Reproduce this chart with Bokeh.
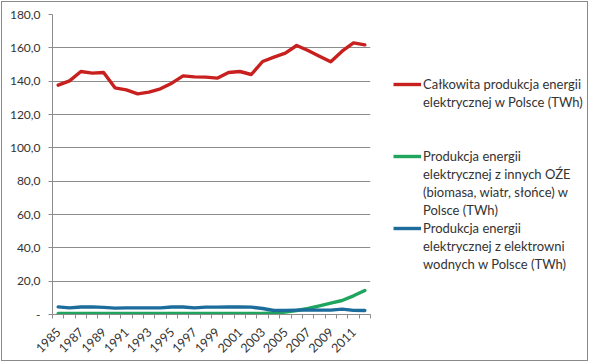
import math
from bokeh.plotting import figure
from bokeh.layouts import row
from bokeh.models import FixedTicker, Legend, LegendItem, Range1d, InlineStyleSheet
from bokeh.embed import file_html
from bokeh.resources import INLINE

years = list(range(1985, 2013))
total = [137.6, 140.2, 145.8, 144.8, 145.2, 136.0, 134.8, 132.4, 133.4, 135.4,
         138.8, 143.2, 142.6, 142.4, 141.8, 145.2, 145.8, 144.0, 151.8, 154.4,
         156.8, 161.4, 158.4, 155.0, 151.6, 158.0, 163.0, 161.8]
renew = [0.6, 0.6, 0.6, 0.6, 0.6, 0.6, 0.6, 0.6, 0.6, 0.6,
         0.6, 0.6, 0.6, 0.6, 0.6, 0.6, 0.6, 0.6, 0.7, 0.9,
         1.5, 2.4, 3.6, 5.2, 6.8, 8.4, 11.2, 14.4]
hydro = [4.6, 4.0, 4.5, 4.6, 4.3, 3.8, 4.0, 4.0, 4.0, 4.0,
         4.5, 4.5, 4.0, 4.4, 4.4, 4.5, 4.5, 4.4, 3.6, 2.4,
         2.5, 2.6, 2.7, 2.6, 2.6, 3.2, 2.5, 2.4]

# legend text, one entry per printed line
series_lines = [
    ["Całkowita produkcja energii", "elektrycznej w Polsce (TWh)"],
    ["Produkcja energii", "elektrycznej z innych OŹE", "(biomasa, wiatr, słońce) w", "Polsce (TWh)"],
    ["Produkcja energii", "elektrycznej z elektrowni", "wodnych w Polsce (TWh)"],
]
blank_lines_after = [2, 0, 0]
colors = ["#c8201f", "#20a55e", "#1c6c9c"]

y_ticks = [0, 20, 40, 60, 80, 100, 120, 140, 160, 180]
y_labels = ["-", "20,0", "40,0", "60,0", "80,0", "100,0", "120,0", "140,0", "160,0", "180,0"]
x_label_years = years[::2]

FONT = "Lato"
TXT = "#333333"
GRID = "#8c8c8c"

p = figure(width=375, height=362, output_backend="svg", toolbar_location=None,
           x_range=Range1d(years[0] - 0.5, years[-1] + 0.5),
           y_range=Range1d(y_ticks[0], y_ticks[-1]),
           min_border_left=52, min_border_right=5,
           min_border_top=14, min_border_bottom=48)
p.outline_line_color = None
p.background_fill_color = None
p.border_fill_color = None

renderers = []
for vals, col in zip([total, renew, hydro], colors):
    r = p.line(years, vals, line_color=col, line_width=3.4, line_join="round", line_cap="round")
    renderers.append(r)

# x axis
xa = p.xaxis[0]
xa.ticker = FixedTicker(ticks=x_label_years,
                        minor_ticks=[y - 0.5 for y in years] + [years[-1] + 0.5])
xa.major_label_orientation = math.pi / 4
xa.major_tick_line_color = None
xa.major_tick_in = 0
xa.major_tick_out = 0
xa.minor_tick_line_color = GRID
xa.minor_tick_in = 0
xa.minor_tick_out = 4
xa.axis_line_color = GRID
xa.major_label_text_font = FONT
xa.major_label_text_font_size = "12.5px"
xa.major_label_text_color = TXT
xa.major_label_standoff = 11

# y axis
ya = p.yaxis[0]
ya.ticker = FixedTicker(ticks=y_ticks)
ya.major_label_overrides = {t: l for t, l in zip(y_ticks, y_labels)}
ya.major_tick_in = 0
ya.major_tick_out = 4
ya.major_tick_line_color = GRID
ya.minor_tick_line_color = None
ya.axis_line_color = GRID
ya.major_label_text_font = FONT
ya.major_label_text_font_size = "12px"
ya.major_label_text_color = TXT
ya.major_label_standoff = 8

p.xgrid.grid_line_color = None
p.ygrid.grid_line_color = GRID
p.ygrid.grid_line_width = 1

# legend panel (separate figure to the right of the plot area)
q = figure(width=214, height=362, output_backend="svg", toolbar_location=None,
           x_range=Range1d(0, 1), y_range=Range1d(0, 1),
           x_axis_location=None, y_axis_location=None,
           min_border_left=0, min_border_right=0, min_border_top=0, min_border_bottom=0)
q.outline_line_color = None
q.xgrid.visible = False
q.ygrid.visible = False
q.background_fill_color = None
q.border_fill_color = None

# hidden copies of the series, used only as legend keys
keys = [q.line(years, vals, line_color=c, line_width=3.4, visible=False)
        for vals, c in zip([total, renew, hydro], colors)]

items = []
for lines, r, nb in zip(series_lines, keys, blank_lines_after):
    items.append(LegendItem(label=lines[0], renderers=[r]))
    for ln in lines[1:]:
        items.append(LegendItem(label=ln, renderers=[]))
    for _ in range(nb):
        items.append(LegendItem(label=" ", renderers=[]))

leg = Legend(items=items, location=(18, 41),
             glyph_width=28, glyph_height=18, label_height=18, spacing=0,
             label_standoff=2, padding=0, margin=0, border_line_color=None,
             background_fill_alpha=0,
             label_text_font=FONT, label_text_font_size="13px",
             label_text_color=TXT)
q.add_layout(leg)

layout = row(p, q, spacing=0)
layout.stylesheets = [InlineStyleSheet(css=":host { outline: 1px solid #8a8a8a; outline-offset: -2px; background: white; }")]

open("out.html", "w").write(file_html(layout, INLINE))
